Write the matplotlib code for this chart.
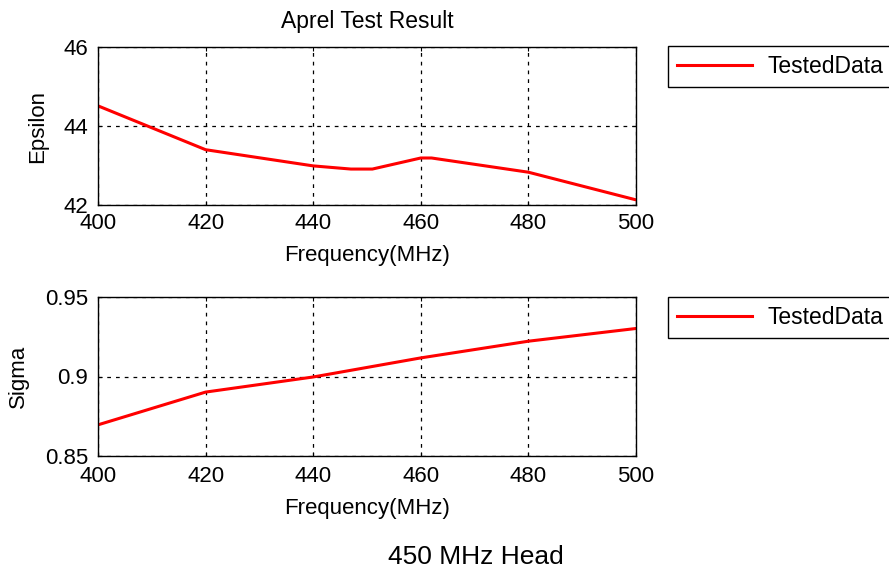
import matplotlib
matplotlib.use("Agg")
import matplotlib.pyplot as plt

plt.rcParams['font.family'] = ['Liberation Sans', 'DejaVu Sans']

# epsilon curve (top)
freq_eps = [400, 420, 440, 447, 451, 460, 462, 480, 500]
epsilon = [44.51, 43.40, 42.99, 42.91, 42.91, 43.19, 43.19, 42.83, 42.13]

# sigma curve (bottom)
freq_sig = [400, 420, 440, 460, 480, 500]
sigma = [0.8696, 0.8902, 0.8997, 0.9117, 0.9222, 0.9302]

xticks = [400, 420, 440, 460, 480, 500]
eps_ticks = [42, 44, 46]
sig_ticks = [0.85, 0.9, 0.95]
sig_labels = ['0.85', '0.9', '0.95']

FS = 16
W, H = 889, 573
fig = plt.figure(figsize=(W / 100, H / 100), dpi=100)

ax1 = fig.add_axes([98 / W, 1 - 205 / H, 538 / W, 158 / H])
ax2 = fig.add_axes([98 / W, 1 - 456 / H, 538 / W, 159 / H])


def style(ax, x, y, yl, ylim, yt, ytl, ylx, xpad):
    ax.plot(x, y, color='red', lw=2.2, label='TestedData')
    ax.set_xlim(400, 500)
    ax.set_ylim(*ylim)
    ax.set_xticks(xticks)
    ax.set_yticks(yt)
    ax.set_yticklabels(ytl)
    ax.grid(True, color='black', linestyle=(0, (3, 4)), lw=0.9)
    ax.tick_params(direction='in', length=3, labelsize=FS, top=True, right=True)
    ax.tick_params(axis='x', pad=xpad)
    ax.tick_params(axis='y', pad=7)
    for s in ax.spines.values():
        s.set_linewidth(1.0)
    ax.set_xlabel('Frequency(MHz)', fontsize=FS, labelpad=8)
    ax.set_ylabel(yl, fontsize=FS)
    ax.yaxis.set_label_coords(ylx, 0.5)


style(ax1, freq_eps, epsilon, 'Epsilon', (42, 46), eps_ticks,
      [str(t) for t in eps_ticks], -0.093, 5.5)
style(ax2, freq_sig, sigma, 'Sigma', (0.85, 0.95), sig_ticks, sig_labels, -0.128, 7)
ax1.set_title('Aprel Test Result', fontsize=16.5, pad=13.5)

for ax, top in [(ax1, 46), (ax2, 297)]:
    ax.legend(loc='upper left', bbox_to_anchor=(668 / W, 1 - top / H),
              bbox_transform=fig.transFigure, fontsize=16.5, frameon=True,
              fancybox=False, edgecolor='black', framealpha=1,
              borderpad=0.4, handlelength=3.27, handletextpad=0.65,
              borderaxespad=0)

fig.text(476 / W, 1 - 557 / H, '450 MHz Head', ha='center', va='center', fontsize=19)

fig.savefig('out.png', dpi=100)
